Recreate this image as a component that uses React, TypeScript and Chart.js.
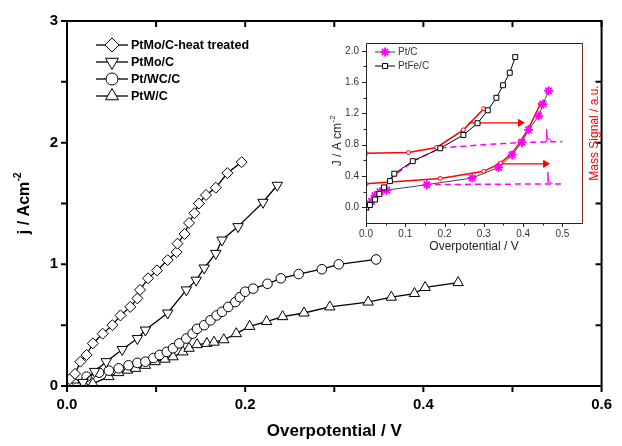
import React, { useEffect, useRef } from 'react';
import { Chart, registerables } from 'chart.js';

Chart.register(...registerables);

const FONT = 'Arial, "Liberation Sans", Helvetica, sans-serif';

// ---------- Main chart data ----------
const SERIES_NAMES = ['PtMo/C-heat treated', 'PtMo/C', 'Pt/WC/C', 'PtW/C'];

const HT_X = [0.001, 0.003, 0.009, 0.015, 0.022, 0.029, 0.040, 0.051, 0.060, 0.071, 0.079, 0.082, 0.091, 0.101, 0.113, 0.123, 0.124, 0.132, 0.137, 0.143, 0.148, 0.156, 0.167, 0.180, 0.196];
const HT_Y = [0.01, 0.055, 0.10, 0.20, 0.255, 0.35, 0.43, 0.50, 0.58, 0.65, 0.72, 0.79, 0.885, 0.95, 1.035, 1.10, 1.17, 1.25, 1.34, 1.42, 1.50, 1.57, 1.63, 1.75, 1.84];

const MO_X = [0.010, 0.018, 0.031, 0.044, 0.062, 0.079, 0.088, 0.113, 0.134, 0.145, 0.154, 0.167, 0.174, 0.192, 0.220, 0.236];
const MO_Y = [0.0, 0.03, 0.12, 0.20, 0.30, 0.39, 0.46, 0.60, 0.79, 0.87, 0.97, 1.09, 1.20, 1.31, 1.51, 1.65];

const WC_X = [0.008, 0.022, 0.036, 0.047, 0.058, 0.069, 0.079, 0.088, 0.097, 0.104, 0.112, 0.119, 0.126, 0.134, 0.141, 0.146, 0.154, 0.161, 0.168, 0.174, 0.181, 0.189, 0.194, 0.200, 0.209, 0.225, 0.240, 0.260, 0.286, 0.305, 0.347];
const WC_Y = [0.02, 0.077, 0.11, 0.126, 0.145, 0.17, 0.19, 0.20, 0.23, 0.255, 0.28, 0.31, 0.35, 0.39, 0.43, 0.47, 0.50, 0.54, 0.58, 0.61, 0.65, 0.69, 0.73, 0.775, 0.80, 0.84, 0.885, 0.92, 0.96, 1.00, 1.04];

const W_X = [0.020, 0.029, 0.047, 0.058, 0.068, 0.077, 0.088, 0.099, 0.110, 0.119, 0.130, 0.137, 0.146, 0.157, 0.165, 0.176, 0.190, 0.205, 0.224, 0.242, 0.266, 0.295, 0.338, 0.364, 0.390, 0.402, 0.439];
const W_Y = [0.0, 0.02, 0.077, 0.11, 0.13, 0.145, 0.17, 0.20, 0.22, 0.24, 0.28, 0.31, 0.34, 0.35, 0.36, 0.38, 0.43, 0.49, 0.53, 0.57, 0.60, 0.65, 0.69, 0.73, 0.76, 0.81, 0.85];

const MAIN_X_LABELS = [0, 0.2, 0.4, 0.6];
const MAIN_X_MARKS = [0, 0.1, 0.2, 0.3, 0.4, 0.5, 0.6];
const MAIN_Y_LABELS = [0, 1, 2, 3];
const MAIN_Y_MARKS = [0, 0.5, 1, 1.5, 2, 2.5, 3];

// ---------- Inset data ----------
const INSET_NAMES = ['Pt/C', 'PtFe/C'];

const PTC_X = [0, 0.014, 0.023, 0.036, 0.053, 0.155, 0.27, 0.338, 0.372, 0.397, 0.414, 0.44, 0.451, 0.465];
const PTC_Y = [0, 0.077, 0.15, 0.20, 0.22, 0.29, 0.375, 0.51, 0.67, 0.83, 0.99, 1.17, 1.32, 1.49];

const PTFE_X = [0, 0.010, 0.023, 0.034, 0.046, 0.061, 0.072, 0.119, 0.189, 0.248, 0.284, 0.310, 0.332, 0.349, 0.366, 0.380];
const PTFE_Y = [0, 0.03, 0.10, 0.17, 0.255, 0.335, 0.43, 0.59, 0.755, 0.925, 1.075, 1.24, 1.40, 1.56, 1.72, 1.92];

const RED_UP_X = [0, 0.108, 0.18, 0.248, 0.30];
const RED_UP_Y = [0.69, 0.70, 0.765, 0.99, 1.26];
const RED_LO_X = [0, 0.189, 0.30, 0.342, 0.372, 0.393, 0.414, 0.444];
const RED_LO_Y = [0.30, 0.37, 0.46, 0.565, 0.69, 0.84, 1.01, 1.32];

const ARROW_UP_X = [0.261, 0.393];
const ARROW_UP_Y = [1.08, 1.08];
const ARROW_LO_X = [0.333, 0.457];
const ARROW_LO_Y = [0.556, 0.556];

const MS_UP_X = [0.06, 0.12, 0.19, 0.25, 0.30, 0.35, 0.40, 0.45, 0.50];
const MS_UP_Y = [0.36, 0.59, 0.76, 0.78, 0.80, 0.815, 0.83, 0.835, 0.84];
const MS_LO_X = [0.15, 0.30, 0.50];
const MS_LO_Y = [0.29, 0.295, 0.30];
const SPIKE_UP_X = [0.459, 0.460, 0.462, 0.470, 0.472];
const SPIKE_UP_Y = [0.84, 1.00, 0.88, 0.87, 0.84];
const SPIKE_LO_X = [0.462, 0.463, 0.465, 0.473, 0.475];
const SPIKE_LO_Y = [0.30, 0.45, 0.33, 0.31, 0.30];

const INSET_X_TICKS = [0, 0.1, 0.2, 0.3, 0.4, 0.5];
const INSET_X_MINOR = [0.05, 0.15, 0.25, 0.35, 0.45];
const INSET_Y_TICKS = [0, 0.4, 0.8, 1.2, 1.6, 2.0];
const INSET_Y_MINOR = [0.2, 0.6, 1.0, 1.4, 1.8];

const pts = (xs: number[], ys: number[]) => xs.map((x, i) => ({ x, y: ys[i] }));

function drawMarker(ctx: CanvasRenderingContext2D, style: string, x: number, y: number, r: number, fill: string, stroke: string, lw: number) {
  ctx.save();
  ctx.beginPath();
  ctx.lineWidth = lw;
  ctx.strokeStyle = stroke;
  ctx.fillStyle = fill;
  if (style === 'diamond') {
    ctx.moveTo(x, y - r); ctx.lineTo(x + r, y); ctx.lineTo(x, y + r); ctx.lineTo(x - r, y); ctx.closePath();
  } else if (style === 'triUp') {
    ctx.moveTo(x, y - r); ctx.lineTo(x + r * 0.866, y + r * 0.5); ctx.lineTo(x - r * 0.866, y + r * 0.5); ctx.closePath();
  } else if (style === 'triDown') {
    ctx.moveTo(x, y + r); ctx.lineTo(x + r * 0.866, y - r * 0.5); ctx.lineTo(x - r * 0.866, y - r * 0.5); ctx.closePath();
  } else if (style === 'circle') {
    ctx.arc(x, y, r, 0, Math.PI * 2);
  } else if (style === 'square') {
    const s = r * 0.7071;
    ctx.rect(x - s, y - s, 2 * s, 2 * s);
  } else if (style === 'star') {
    for (let k = 0; k < 4; k++) {
      const a = (k * Math.PI) / 4;
      ctx.moveTo(x - Math.cos(a) * r, y - Math.sin(a) * r);
      ctx.lineTo(x + Math.cos(a) * r, y + Math.sin(a) * r);
    }
    ctx.stroke();
    ctx.restore();
    return;
  }
  ctx.fill();
  ctx.stroke();
  ctx.restore();
}

function drawRotatedSup(ctx: CanvasRenderingContext2D, cx: number, cy: number, base: string, sup: string, font: string, supFont: string, raise: number, color: string) {
  ctx.save();
  ctx.translate(cx, cy);
  ctx.rotate(-Math.PI / 2);
  ctx.fillStyle = color;
  ctx.textBaseline = 'middle';
  ctx.textAlign = 'left';
  ctx.font = font;
  const wb = ctx.measureText(base).width;
  ctx.font = supFont;
  const ws = ctx.measureText(sup).width;
  const start = -(wb + ws) / 2;
  ctx.font = font;
  ctx.fillText(base, start, 0);
  ctx.font = supFont;
  ctx.fillText(sup, start + wb + 0.5, -raise);
  ctx.restore();
}

const mainDecor = {
  id: 'mainDecor',
  afterDraw(chart: any) {
    const { ctx, chartArea, scales } = chart;
    const { left, right, top, bottom } = chartArea;
    const x = scales.x, y = scales.y;
    ctx.save();
    ctx.strokeStyle = '#000';
    ctx.lineWidth = 2;
    ctx.strokeRect(left, top, right - left, bottom - top);
    ctx.beginPath();
    MAIN_X_MARKS.forEach((v) => {
      const px = x.getPixelForValue(v);
      ctx.moveTo(px, bottom); ctx.lineTo(px, bottom + 6);
      ctx.moveTo(px, top); ctx.lineTo(px, top + 6);
    });
    MAIN_Y_MARKS.forEach((v) => {
      const py = y.getPixelForValue(v);
      ctx.moveTo(left - 6, py); ctx.lineTo(left, py);
      ctx.moveTo(right, py); ctx.lineTo(right - 6, py);
    });
    ctx.stroke();
    ctx.restore();

    // y title with superscript
    drawRotatedSup(ctx, 25, (top + bottom) / 2, 'j / Acm', '-2', `bold 16px ${FONT}`, `bold 10px ${FONT}`, 7, '#000');

    // legend
    const shapes = ['diamond', 'triDown', 'circle', 'triUp'];
    const sizes = [7, 7.5, 6, 7.5];
    const rows = [45, 62, 79, 96];
    SERIES_NAMES.forEach((name, i) => {
      const ry = rows[i];
      ctx.save();
      ctx.strokeStyle = '#000';
      ctx.lineWidth = 1.3;
      ctx.beginPath();
      ctx.moveTo(96, ry); ctx.lineTo(128, ry);
      ctx.stroke();
      ctx.restore();
      drawMarker(ctx, shapes[i], 112, ry, sizes[i], '#fff', '#000', 1);
      ctx.save();
      ctx.fillStyle = '#000';
      ctx.font = `bold 12.5px ${FONT}`;
      ctx.textBaseline = 'middle';
      ctx.textAlign = 'left';
      ctx.fillText(name, 131, ry + 0.5);
      ctx.restore();
    });
  },
};

const insetDecor = {
  id: 'insetDecor',
  afterDraw(chart: any) {
    const { ctx, chartArea, scales } = chart;
    const { left, right, top, bottom } = chartArea;
    const x = scales.x, y = scales.y;
    ctx.save();
    ctx.lineWidth = 1;
    ctx.strokeStyle = '#222';
    ctx.beginPath();
    ctx.moveTo(right, top + 0.5); ctx.lineTo(left + 0.5, top + 0.5); ctx.lineTo(left + 0.5, bottom + 0.5); ctx.lineTo(right, bottom + 0.5);
    INSET_X_TICKS.forEach((v) => { const px = Math.round(x.getPixelForValue(v)) + 0.5; ctx.moveTo(px, bottom); ctx.lineTo(px, bottom + 4); });
    INSET_X_MINOR.forEach((v) => { const px = Math.round(x.getPixelForValue(v)) + 0.5; ctx.moveTo(px, bottom); ctx.lineTo(px, bottom + 2.5); });
    INSET_Y_TICKS.forEach((v) => { const py = Math.round(y.getPixelForValue(v)) + 0.5; ctx.moveTo(left, py); ctx.lineTo(left - 4, py); });
    INSET_Y_MINOR.forEach((v) => { const py = Math.round(y.getPixelForValue(v)) + 0.5; ctx.moveTo(left, py); ctx.lineTo(left - 2.5, py); });
    ctx.stroke();
    ctx.strokeStyle = '#8B2323';
    ctx.beginPath();
    ctx.moveTo(right + 0.5, top); ctx.lineTo(right + 0.5, bottom + 1);
    ctx.stroke();
    ctx.restore();

    drawRotatedSup(ctx, 18, 111, 'J / A cm', '-2', `12px ${FONT}`, `8px ${FONT}`, 5, '#222');

    // Mass signal title
    ctx.save();
    ctx.translate(275, (top + bottom) / 2);
    ctx.rotate(-Math.PI / 2);
    ctx.fillStyle = '#ff0000';
    ctx.font = `12px ${FONT}`;
    ctx.textAlign = 'center';
    ctx.textBaseline = 'middle';
    ctx.fillText('Mass Signal / a.u.', 0, 0);
    ctx.restore();

    // legend
    const rows = [22, 36];
    const lineCols = ['#444', '#000'];
    INSET_NAMES.forEach((name, i) => {
      const ry = rows[i];
      ctx.save();
      ctx.strokeStyle = lineCols[i];
      ctx.lineWidth = 1;
      ctx.beginPath();
      ctx.moveTo(55, ry); ctx.lineTo(75, ry);
      ctx.stroke();
      ctx.restore();
      if (i === 0) drawMarker(ctx, 'star', 65, ry, 4.5, '#ff00ff', '#ff00ff', 1.8);
      else drawMarker(ctx, 'square', 65, ry, 3.5, '#fff', '#000', 1);
      ctx.save();
      ctx.fillStyle = '#333';
      ctx.font = `10px ${FONT}`;
      ctx.textBaseline = 'middle';
      ctx.fillText(name, 78, ry + 0.5);
      ctx.restore();
    });
  },
};

function mainConfig(): any {
  const common = { showLine: true, borderColor: '#000', borderWidth: 1.3, tension: 0, pointBackgroundColor: '#fff', pointBorderColor: '#000', pointBorderWidth: 1 };
  return {
    type: 'scatter',
    data: {
      datasets: [
        { ...common, label: SERIES_NAMES[0], data: pts(HT_X, HT_Y), pointStyle: 'rectRot', pointRadius: 5.5 },
        { ...common, label: SERIES_NAMES[1], data: pts(MO_X, MO_Y), pointStyle: 'triangle', pointRotation: 180, pointRadius: 6 },
        { ...common, label: SERIES_NAMES[2], data: pts(WC_X, WC_Y), pointStyle: 'circle', pointRadius: 4.8 },
        { ...common, label: SERIES_NAMES[3], data: pts(W_X, W_Y), pointStyle: 'triangle', pointRadius: 6 },
      ],
    },
    options: {
      animation: false,
      responsive: false,
      devicePixelRatio: 1,
      layout: { padding: { top: 21, right: 11, left: 0, bottom: 0 } },
      plugins: { legend: { display: false }, tooltip: { enabled: false } },
      scales: {
        x: {
          type: 'linear', min: 0, max: 0.6,
          afterBuildTicks: (s: any) => { s.ticks = MAIN_X_LABELS.map((v) => ({ value: v })); },
          afterFit: (s: any) => { s.height = 60; },
          grid: { display: false, drawTicks: false },
          border: { display: false },
          ticks: { padding: 10, color: '#000', font: { family: FONT, size: 15, weight: 'bold' }, maxRotation: 0, autoSkip: false, callback: (v: any) => Number(v).toFixed(1) },
          title: { display: true, text: 'Overpotential / V', color: '#000', font: { family: FONT, size: 17, weight: 'bold' }, padding: { top: 0, bottom: 4 } },
        },
        y: {
          type: 'linear', min: 0, max: 3,
          afterBuildTicks: (s: any) => { s.ticks = MAIN_Y_LABELS.map((v) => ({ value: v })); },
          afterFit: (s: any) => { s.width = 67; },
          grid: { display: false, drawTicks: false },
          border: { display: false },
          ticks: { padding: 9, color: '#000', font: { family: FONT, size: 15, weight: 'bold' }, autoSkip: false, callback: (v: any) => String(v) },
          title: { display: false },
        },
      },
    },
    plugins: [mainDecor],
  };
}

function insetConfig(): any {
  const red = '#ff0000';
  const mag = '#ff00ff';
  return {
    type: 'scatter',
    data: {
      datasets: [
        { label: 'PtFe/C', data: pts(PTFE_X, PTFE_Y), showLine: true, borderColor: '#000', borderWidth: 1, pointStyle: 'rect', pointRadius: 3.5, pointBackgroundColor: '#fff', pointBorderColor: '#000', pointBorderWidth: 1 },
        { label: 'Pt/C', data: pts(PTC_X, PTC_Y), showLine: true, borderColor: '#444', borderWidth: 1, pointStyle: 'star', pointRadius: 4.5, pointBorderColor: mag, pointBackgroundColor: mag, pointBorderWidth: 1.8 },
        { label: 'red upper', data: pts(RED_UP_X, RED_UP_Y), showLine: true, borderColor: red, borderWidth: 1.5, pointStyle: 'circle', pointRadius: 2, pointBackgroundColor: '#fff', pointBorderColor: red, pointBorderWidth: 1 },
        { label: 'red lower', data: pts(RED_LO_X, RED_LO_Y), showLine: true, borderColor: red, borderWidth: 1.5, pointStyle: 'circle', pointRadius: 2, pointBackgroundColor: '#fff', pointBorderColor: red, pointBorderWidth: 1 },
        { label: 'arrow upper', data: pts(ARROW_UP_X, ARROW_UP_Y), showLine: true, borderColor: red, borderWidth: 1.2, pointStyle: 'triangle', pointRotation: 90, pointRadius: [0, 3.5], pointBackgroundColor: red, pointBorderColor: red },
        { label: 'arrow lower', data: pts(ARROW_LO_X, ARROW_LO_Y), showLine: true, borderColor: red, borderWidth: 1.2, pointStyle: 'triangle', pointRotation: 90, pointRadius: [0, 3.5], pointBackgroundColor: red, pointBorderColor: red },
        { label: 'mass upper', yAxisID: 'y2', data: pts(MS_UP_X, MS_UP_Y), showLine: true, borderColor: mag, borderWidth: 1.5, borderDash: [6, 4], pointRadius: 0 },
        { label: 'mass lower', yAxisID: 'y2', data: pts(MS_LO_X, MS_LO_Y), showLine: true, borderColor: mag, borderWidth: 1.5, borderDash: [6, 4], pointRadius: 0 },
        { label: 'spike upper', yAxisID: 'y2', data: pts(SPIKE_UP_X, SPIKE_UP_Y), showLine: true, borderColor: mag, borderWidth: 1, pointRadius: 0 },
        { label: 'spike lower', yAxisID: 'y2', data: pts(SPIKE_LO_X, SPIKE_LO_Y), showLine: true, borderColor: mag, borderWidth: 1, pointRadius: 0 },
      ],
    },
    options: {
      animation: false,
      responsive: false,
      devicePixelRatio: 1,
      layout: { padding: { top: 11, right: 0, left: 0, bottom: 0 } },
      plugins: { legend: { display: false }, tooltip: { enabled: false } },
      scales: {
        x: {
          type: 'linear', min: 0, max: 0.55,
          afterBuildTicks: (s: any) => { s.ticks = INSET_X_TICKS.map((v) => ({ value: v })); },
          afterFit: (s: any) => { s.height = 33; },
          grid: { display: false, drawTicks: false },
          border: { display: false },
          ticks: { padding: 5, color: '#333', font: { family: FONT, size: 10 }, maxRotation: 0, autoSkip: false, callback: (v: any) => Number(v).toFixed(1) },
          title: { display: true, text: 'Overpotential / V', color: '#222', font: { family: FONT, size: 12 }, padding: { top: 0, bottom: 2 } },
        },
        y: {
          type: 'linear', min: -0.2, max: 2.1,
          afterBuildTicks: (s: any) => { s.ticks = INSET_Y_TICKS.map((v) => ({ value: v })); },
          afterFit: (s: any) => { s.width = 46; },
          grid: { display: false, drawTicks: false },
          border: { display: false },
          ticks: { padding: 7, color: '#333', font: { family: FONT, size: 10 }, autoSkip: false, callback: (v: any) => Number(v).toFixed(1) },
          title: { display: false },
        },
        y2: {
          type: 'linear', position: 'right', min: -0.2, max: 2.1,
          afterFit: (s: any) => { s.width = 26; },
          grid: { display: false, drawTicks: false },
          border: { display: false },
          ticks: { display: false },
          title: { display: false },
        },
      },
    },
    plugins: [insetDecor],
  };
}

export default function App() {
  const mainRef = useRef<HTMLCanvasElement>(null);
  const insetRef = useRef<HTMLCanvasElement>(null);
  useEffect(() => {
    const main = new Chart(mainRef.current as HTMLCanvasElement, mainConfig());
    const inset = new Chart(insetRef.current as HTMLCanvasElement, insetConfig());
    return () => {
      main.destroy();
      inset.destroy();
    };
  }, []);
  return (
    <div style={{ position: 'absolute', left: 0, top: 0, width: 622, height: 446, background: '#fff' }}>
      <canvas ref={mainRef} width={622} height={446} style={{ position: 'absolute', left: 0, top: 0, width: 622, height: 446 }} />
      <canvas ref={insetRef} width={288} height={226} style={{ position: 'absolute', left: 320, top: 30, width: 288, height: 226 }} />
    </div>
  );
}
